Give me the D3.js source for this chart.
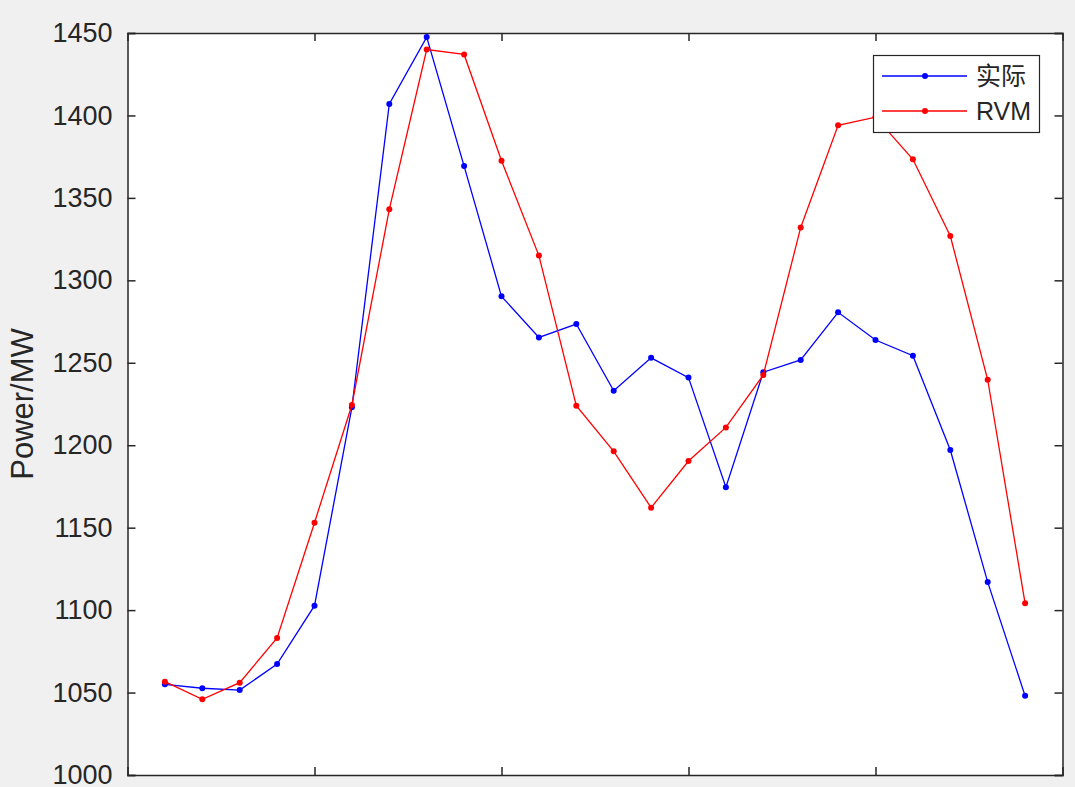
<!DOCTYPE html>
<html>
<head>
<meta charset="utf-8">
<script src="https://cdn.jsdelivr.net/npm/d3@7"></script>
<style>
html,body{margin:0;padding:0;background:#f0f0f0;}
svg{display:block;font-family:"Liberation Sans",Arial,sans-serif;}
</style>
</head>
<body>
<svg id="chart" width="1075" height="787"></svg>
<script>
const xIndex = [1,2,3,4,5,6,7,8,9,10,11,12,13,14,15,16,17,18,19,20,21,22,23,24];
const actual = [1055,1052.6,1051.5,1067.3,1102.7,1223,1407,1447.5,1369.3,1290.3,1265.4,1273.5,1233,1253,1241,1174.5,1244.3,1251.7,1280.6,1263.8,1254.3,1197.1,1117,1048];
const rvm = [1056.6,1045.9,1056,1083.1,1153,1224.4,1343.1,1440,1437,1372.5,1315,1224,1196.3,1162.1,1190.4,1210.8,1242.6,1332.1,1394,1399,1373.4,1326.9,1239.7,1104.1];
const yTicks = [1000,1050,1100,1150,1200,1250,1300,1350,1400,1450];
const xTicks = [5,10,15,20];
const seriesNames = ["实际","RVM"];
const seriesColors = ["#0000ff","#ff0000"];

const svg = d3.select("#chart");
const L = 127.5, T = 33, R = 1062.5, B = 775;
const x = d3.scaleLinear().domain([0,25]).range([L,R]);
const y = d3.scaleLinear().domain([1000,1450]).range([B,T]);
const axisColor = "#262626";
const tickLen = 8;

svg.append("rect").attr("x",L).attr("y",T).attr("width",R-L).attr("height",B-T).attr("fill","#fff");

// axes (box with inward ticks)
const gL = svg.append("g").attr("transform",`translate(${L},0)`)
  .call(d3.axisLeft(y).tickValues(yTicks).tickSize(-tickLen).tickPadding(15).tickFormat(d3.format("d")));
const gR = svg.append("g").attr("transform",`translate(${R},0)`)
  .call(d3.axisRight(y).tickValues(yTicks).tickSize(-tickLen).tickFormat(""));
const gB = svg.append("g").attr("transform",`translate(0,${B})`)
  .call(d3.axisBottom(x).tickValues(xTicks).tickSize(-tickLen).tickFormat(""));
const gT = svg.append("g").attr("transform",`translate(0,${T})`)
  .call(d3.axisTop(x).tickValues(xTicks).tickSize(-tickLen).tickFormat(""));
[gL,gR,gB,gT].forEach(g=>{
  g.select(".domain").attr("stroke",axisColor).attr("stroke-width",1.5);
  g.selectAll(".tick line").attr("stroke",axisColor).attr("stroke-width",1.5);
  g.selectAll(".tick text").attr("fill",axisColor).attr("font-size",27).attr("font-family","'Liberation Sans',Arial,sans-serif");
});

svg.append("text").attr("transform","translate(33,404) rotate(-90)")
  .attr("text-anchor","middle").attr("font-size",31).attr("fill",axisColor).text("Power/MW");

const line = d3.line().x((d,i)=>x(xIndex[i])).y(d=>y(d));
[actual,rvm].forEach((s,k)=>{
  svg.append("path").datum(s).attr("d",line).attr("fill","none")
    .attr("stroke",seriesColors[k]).attr("stroke-width",1.3);
  svg.append("g").selectAll("circle").data(s).join("circle")
    .attr("cx",(d,i)=>x(xIndex[i])).attr("cy",d=>y(d)).attr("r",3)
    .attr("fill",seriesColors[k]);
});

// legend
const lg = svg.append("g");
lg.append("rect").attr("x",873.5).attr("y",55.5).attr("width",166).attr("height",77)
  .attr("fill","#fff").attr("stroke",axisColor).attr("stroke-width",1.2);
seriesNames.forEach((n,k)=>{
  const yy = 76 + k*35;
  lg.append("line").attr("x1",882).attr("x2",967).attr("y1",yy).attr("y2",yy)
    .attr("stroke",seriesColors[k]).attr("stroke-width",1.3);
  lg.append("circle").attr("cx",925).attr("cy",yy).attr("r",3).attr("fill",seriesColors[k]);
  lg.append("text").attr("x",976).attr("y",yy).attr("dy","0.36em").attr("font-size",25)
    .attr("fill",axisColor)
    .attr("font-family", k===0 ? "'Noto Sans CJK SC',sans-serif" : "'Liberation Sans',Arial,sans-serif")
    .text(n);
});
</script>
</body>
</html>
